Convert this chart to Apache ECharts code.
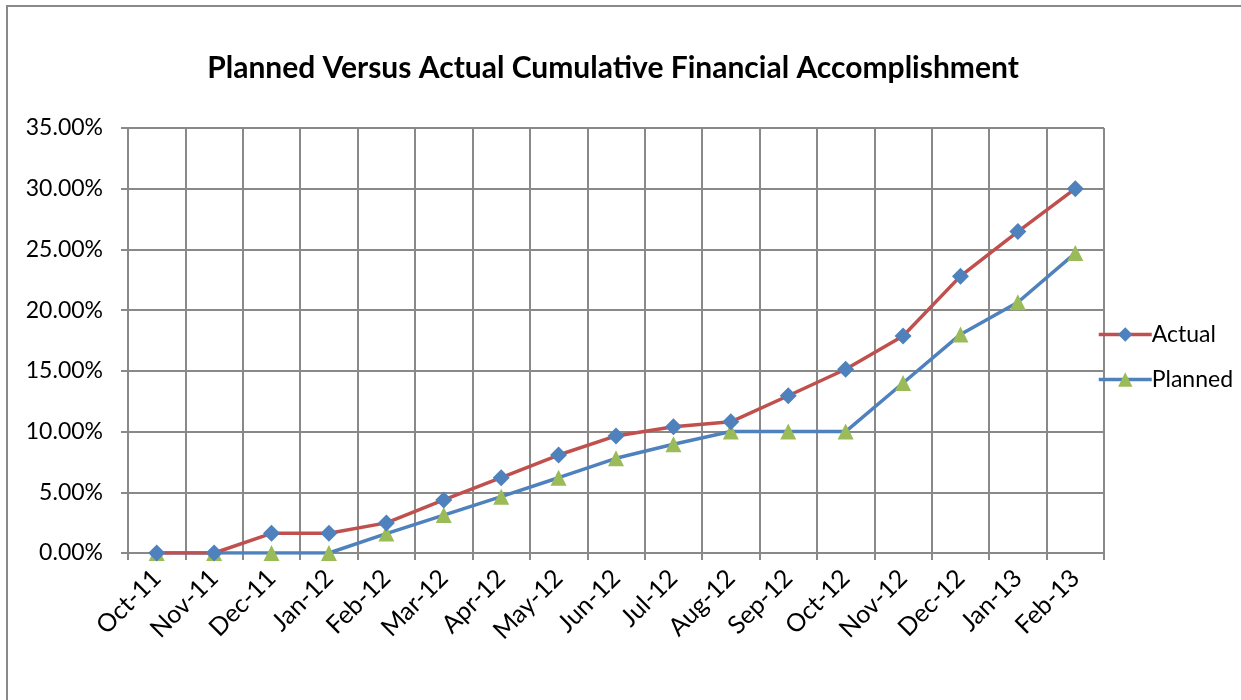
<!DOCTYPE html>
<html>
<head>
<meta charset="utf-8">
<script src="https://cdn.jsdelivr.net/npm/echarts@6/dist/echarts.min.js"></script>
<style>
  html, body { margin: 0; padding: 0; background: #fff; }
  #chart { width: 1241px; height: 700px; }
</style>
</head>
<body>
<div id="chart"></div>
<script>
var months = ['Oct-11', 'Nov-11', 'Dec-11', 'Jan-12', 'Feb-12', 'Mar-12', 'Apr-12', 'May-12', 'Jun-12',
    'Jul-12', 'Aug-12', 'Sep-12', 'Oct-12', 'Nov-12', 'Dec-12', 'Jan-13', 'Feb-13'];
// cumulative percentages
var actual = [0, 0, 1.62, 1.62, 2.48, 4.37, 6.2, 8.07, 9.64, 10.4, 10.8, 12.95, 15.13, 17.87, 22.8, 26.47, 30.0];
var planned = [0, 0, 0, 0, 1.6, 3.12, 4.64, 6.2, 7.8, 8.95, 10.0, 10.0, 10.0, 14.0, 18.0, 20.65, 24.7];

var gridColor = '#898989';
var font = 'Lato, "Liberation Sans", sans-serif';

var myChart = echarts.init(document.getElementById('chart'));

var option = {
    backgroundColor: '#ffffff',
    animation: false,
    title: {
        text: 'Planned Versus Actual Cumulative Financial Accomplishment',
        left: 608,
        textAlign: 'center',
        top: 48,
        textStyle: {
            fontFamily: font,
            fontWeight: 'bold',
            fontSize: 30,
            color: '#000'
        }
    },
    graphic: [{
        type: 'rect',
        shape: { x: 7, y: 6, width: 1300, height: 800 },
        style: { fill: null, stroke: gridColor, lineWidth: 2 },
        silent: true
    }],
    legend: {
        orient: 'vertical',
        left: 1092,
        top: 318,
        itemWidth: 53,
        itemHeight: 18,
        itemGap: 22,
        lineStyle: { width: 3.5 },
        data: ['Actual', 'Planned'],
        textStyle: {
            fontFamily: font,
            fontSize: 23,
            color: '#000',
            padding: [0, 0, 0, -5]
        }
    },
    grid: {
        left: 128,
        right: 137,
        top: 128,
        bottom: 147
    },
    xAxis: {
        type: 'category',
        data: months,
        boundaryGap: true,
        axisLine: { lineStyle: { color: gridColor, width: 2 } },
        axisTick: { show: true, length: 7, lineStyle: { color: gridColor, width: 2 } },
        splitLine: { show: true, lineStyle: { color: gridColor, width: 2 } },
        axisLabel: {
            rotate: 45,
            margin: 21,
            interval: 0,
            fontFamily: font,
            fontSize: 25,
            color: '#000'
        }
    },
    yAxis: {
        type: 'value',
        min: 0,
        max: 35,
        interval: 5,
        axisLine: { show: true, lineStyle: { color: gridColor, width: 2 } },
        axisTick: { show: true, length: 7, lineStyle: { color: gridColor, width: 2 } },
        splitLine: { show: true, lineStyle: { color: gridColor, width: 2 } },
        axisLabel: {
            margin: 25,
            fontFamily: font,
            fontSize: 23,
            color: '#000',
            formatter: function (v) { return v.toFixed(2) + '%'; }
        }
    },
    series: [{
        name: 'Actual',
        type: 'line',
        data: actual,
        symbol: 'diamond',
        symbolSize: 17,
        itemStyle: { color: '#4F81BD' },
        lineStyle: { color: '#C0504D', width: 3.5 },
        z: 3
    }, {
        name: 'Planned',
        type: 'line',
        data: planned,
        symbol: 'triangle',
        symbolSize: 16,
        itemStyle: { color: '#9BBB59' },
        lineStyle: { color: '#4F81BD', width: 3.5 },
        z: 2
    }]
};

myChart.setOption(option);
</script>
</body>
</html>
